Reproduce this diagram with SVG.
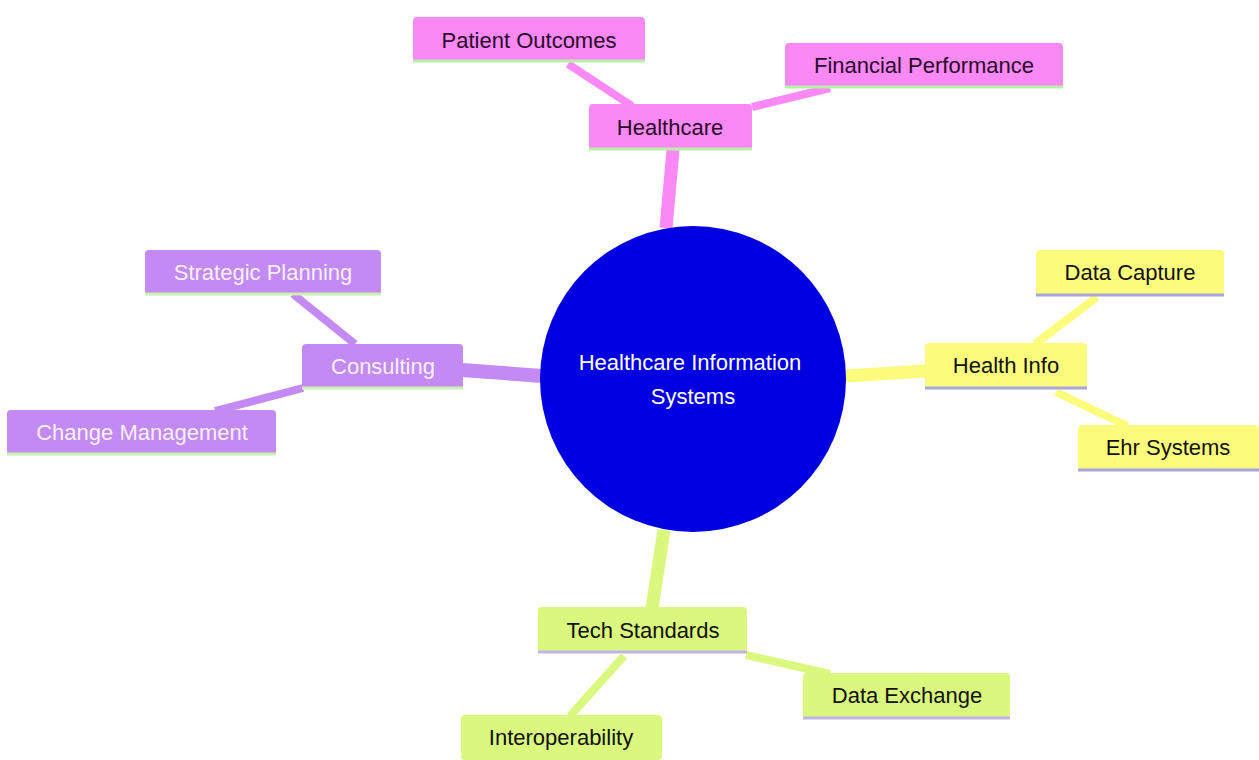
<svg xmlns="http://www.w3.org/2000/svg" width="1259" height="760" viewBox="0 0 1259 760">
<style>
text{font-family:"Liberation Sans",Arial,sans-serif;font-size:22px;text-anchor:middle;dominant-baseline:central}
.pk rect.b{fill:#fa88f5}.pk line.u{stroke:#b8f0a8}.pk text{fill:#2a0a2a}
.pu rect.b{fill:#c28af2}.pu line.u{stroke:#c9f0b0}.pu text{fill:#f7f0ff}
.ye rect.b{fill:#fcfc7c}.ye line.u{stroke:#a8a6dc}.ye text{fill:#111}
.gr rect.b{fill:#daf77e}.gr line.u{stroke:#c2b4ea}.gr text{fill:#111}
line.u{stroke-width:3}
.e{stroke-linecap:butt;fill:none}
</style>
<rect width="1259" height="760" fill="#fff"/>
<g id="connectors" class="e">
<line x1="666" y1="228" x2="673" y2="150" stroke="#fa88f5" stroke-width="13"/>
<line x1="632" y1="106" x2="568" y2="64" stroke="#fa88f5" stroke-width="8"/>
<line x1="752" y1="107" x2="830" y2="88" stroke="#fa88f5" stroke-width="8"/>
<line x1="542" y1="376" x2="462" y2="370" stroke="#c28af2" stroke-width="14"/>
<line x1="355" y1="344" x2="293" y2="294" stroke="#c28af2" stroke-width="8"/>
<line x1="303" y1="388" x2="215" y2="411" stroke="#c28af2" stroke-width="8"/>
<line x1="845" y1="376" x2="926" y2="371" stroke="#fcfc7c" stroke-width="13"/>
<line x1="1035" y1="344" x2="1097" y2="297" stroke="#fcfc7c" stroke-width="8"/>
<line x1="1056" y1="392" x2="1127" y2="426" stroke="#fcfc7c" stroke-width="8"/>
<line x1="664" y1="530" x2="652" y2="608" stroke="#daf77e" stroke-width="13"/>
<line x1="746" y1="655" x2="830" y2="674" stroke="#daf77e" stroke-width="8"/>
<line x1="624" y1="656" x2="570" y2="716" stroke="#daf77e" stroke-width="8"/>
</g>
<g id="root">
<circle cx="693" cy="379" r="153" fill="#0000e0"/>
<text x="690" y="362" fill="#fff" font-size="21">Healthcare Information</text>
<text x="693" y="396" fill="#fff" font-size="21">Systems</text>
</g>
<g id="healthcare" class="pk"><rect class="b" x="589" y="104" width="163" height="46" rx="4"/><line class="u" x1="589" y1="149" x2="752" y2="149"/><text x="670" y="127">Healthcare</text></g>
<g id="patient-outcomes" class="pk"><rect class="b" x="413" y="17" width="232" height="45" rx="4"/><line class="u" x1="413" y1="61" x2="645" y2="61"/><text x="529" y="40">Patient Outcomes</text></g>
<g id="financial-performance" class="pk"><rect class="b" x="785" y="43" width="278" height="45" rx="4"/><line class="u" x1="785" y1="87" x2="1063" y2="87"/><text x="924" y="65">Financial Performance</text></g>
<g id="consulting" class="pu"><rect class="b" x="302" y="344" width="161" height="45" rx="4"/><line class="u" x1="302" y1="388" x2="463" y2="388"/><text x="383" y="366">Consulting</text></g>
<g id="strategic-planning" class="pu"><rect class="b" x="145" y="250" width="236" height="45" rx="4"/><line class="u" x1="145" y1="294" x2="381" y2="294"/><text x="263" y="272">Strategic Planning</text></g>
<g id="change-management" class="pu"><rect class="b" x="7" y="410" width="269" height="45" rx="4"/><line class="u" x1="7" y1="454" x2="276" y2="454"/><text x="142" y="432">Change Management</text></g>
<g id="health-info" class="ye"><rect class="b" x="925" y="343" width="162" height="46" rx="4"/><line class="u" x1="925" y1="388" x2="1087" y2="388"/><text x="1006" y="365">Health Info</text></g>
<g id="data-capture" class="ye"><rect class="b" x="1036" y="250" width="188" height="46" rx="4"/><line class="u" x1="1036" y1="295" x2="1224" y2="295"/><text x="1130" y="272">Data Capture</text></g>
<g id="ehr-systems" class="ye"><rect class="b" x="1078" y="425" width="181" height="46" rx="4"/><line class="u" x1="1078" y1="470" x2="1259" y2="470"/><text x="1168" y="447">Ehr Systems</text></g>
<g id="tech-standards" class="gr"><rect class="b" x="538" y="607" width="209" height="46" rx="4"/><line class="u" x1="538" y1="652" x2="747" y2="652"/><text x="643" y="630">Tech Standards</text></g>
<g id="data-exchange" class="gr"><rect class="b" x="803" y="673" width="207" height="46" rx="4"/><line class="u" x1="803" y1="718" x2="1010" y2="718"/><text x="907" y="695">Data Exchange</text></g>
<g id="interoperability" class="gr"><rect class="b" x="461" y="715" width="201" height="45" rx="4"/><text x="561" y="737">Interoperability</text></g>
</svg>
